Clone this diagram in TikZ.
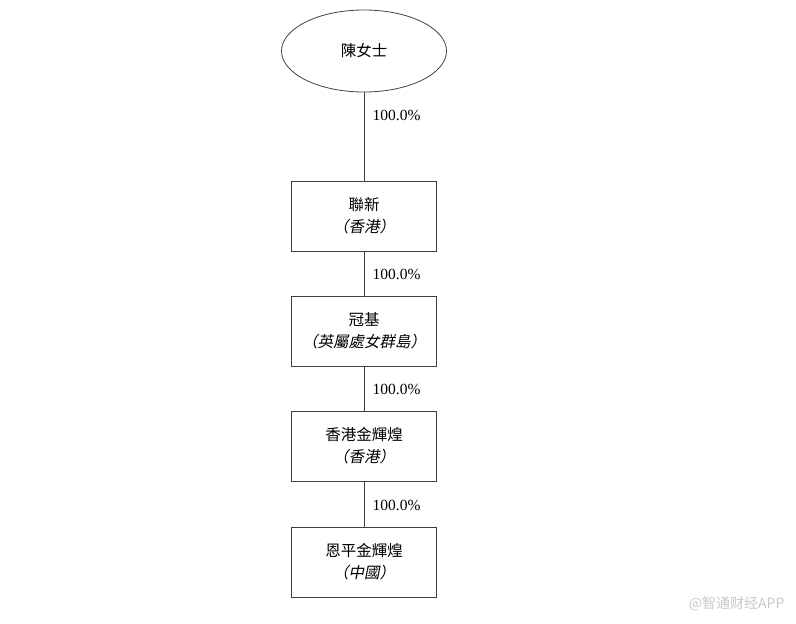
\documentclass[tikz,border=0pt]{standalone}
\usepackage{fontspec}
\setmainfont{Liberation Serif}
\newfontfamily\cjk{Noto Sans CJK TC}
\newfontfamily\cjkit[FakeSlant=0.2]{Noto Sans CJK TC}
\newfontfamily\cjksc{Noto Sans CJK SC}
\usetikzlibrary{shapes.geometric}
\tikzset{
    entity/.style={draw=black!75, line width=0.8pt, minimum width=145pt, minimum height=70pt, align=center, font=\cjk\fontsize{15.5}{22}\selectfont},
    holder/.style={draw=black!75, line width=0.8pt, ellipse, minimum width=165pt, minimum height=82pt, font=\cjk\fontsize{15.5}{18}\selectfont},
    link/.style={draw=black!75, line width=0.8pt},
    pct/.style={anchor=west, xshift=5pt, font=\fontsize{15.5}{18}\selectfont}
}
\begin{document}
\begin{tikzpicture}[x=1pt, y=-1pt]
    \useasboundingbox (0,0) rectangle (796,624);
    % owner at the top
    \node[holder] (chen) at (364,51) {陳女士};
    % chain of companies
    \node[entity] (lianxin) at (364,216) {聯新\\{\cjkit （香港）}};
    \node[entity] (guanji) at (364,331) {冠基\\{\cjkit （英屬處女群島）}};
    \node[entity] (hkjin) at (364,446) {香港金輝煌\\{\cjkit （香港）}};
    \node[entity] (enping) at (364,562) {恩平金輝煌\\{\cjkit （中國）}};
    % shareholdings
    \draw[link] (chen) -- node[pct, pos=0.26] {100.0\%} (lianxin);
    \draw[link] (lianxin) -- node[pct, pos=0.53] {100.0\%} (guanji);
    \draw[link] (guanji) -- node[pct, pos=0.53] {100.0\%} (hkjin);
    \draw[link] (hkjin) -- node[pct, pos=0.53] {100.0\%} (enping);
    % watermark
    \node[anchor=east, text=black!22, font=\cjksc\fontsize{14}{17}\selectfont] (mark) at (788,604) {@智通财经APP};
\end{tikzpicture}
\end{document}
